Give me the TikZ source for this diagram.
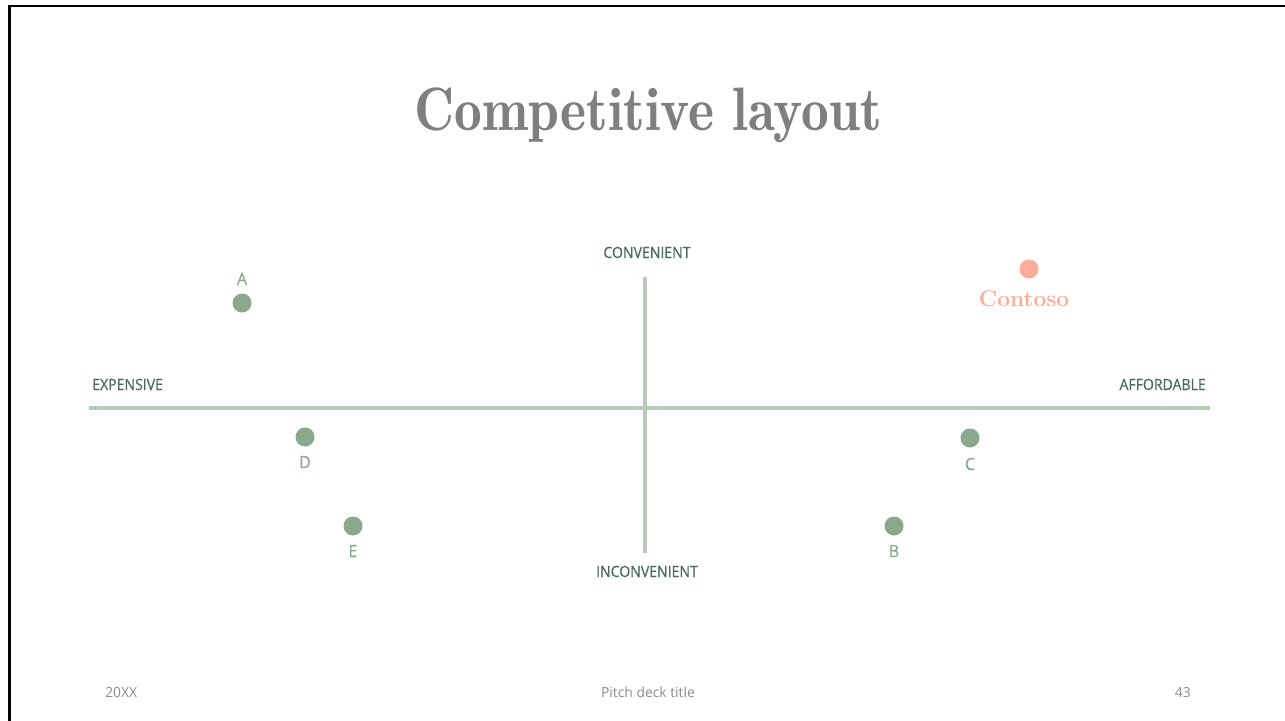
\documentclass[tikz,border=0pt]{standalone}
\usepackage{fontspec}
\setsansfont{Open Sans}
\newfontfamily\titlefont[FakeStretch=0.905]{lmromandemi10-regular.otf}
\newfontfamily\axisfont[FakeStretch=0.91,FakeBold=0.6]{Open Sans}
\newfontfamily\letterfont[FakeStretch=0.95,FakeBold=0.3]{Open Sans}
\definecolor{titlegray}{HTML}{7F7F7F}
\definecolor{axisgreen}{HTML}{B6CBB8}
\definecolor{dotgreen}{HTML}{8AA88C}
\definecolor{labelgreen}{HTML}{4B6B5E}
\definecolor{salmon}{HTML}{FFAC96}
\definecolor{footgray}{HTML}{8C8C8C}
\begin{document}
\begin{tikzpicture}[x=0.75pt,y=-0.75pt,
  axis/.style={draw=axisgreen,line width=3pt},
  dot/.style={circle,fill=dotgreen,minimum size=14.25pt,inner sep=0pt},
  hotdot/.style={circle,fill=salmon,minimum size=14.25pt,inner sep=0pt},
  axislabel/.style={text=labelgreen,font=\axisfont\fontsize{11.6}{13}\selectfont,inner sep=0pt,anchor=base},
  letter/.style={text=dotgreen,font=\letterfont\fontsize{12.6}{14}\selectfont,inner sep=0pt,anchor=base},
  foot/.style={text=footgray,font=\sffamily\fontsize{10.4}{12}\selectfont,inner sep=0pt,anchor=base}]
\useasboundingbox[fill=white] (0,0) rectangle (1285,721);
% slide frame
\draw[line width=1.9pt] (9.3,730) -- (9.3,5.8) -- (1290,5.8);
% title
\node[text=titlegray,font=\titlefont\fontsize{46}{50}\selectfont,inner sep=0pt,anchor=base] (title) at (648,130) {Competitive layout};
% axes
\coordinate (xl) at (89,407.5);
\coordinate (xr) at (1210,407.5);
\coordinate (yt) at (645,277);
\coordinate (yb) at (645,553);
\draw[axis] (xl) -- (xr);
\draw[axis] (yt) -- (yb);
% axis labels
\node[axislabel] (conv) at (647,258) {CONVENIENT};
\node[axislabel] (inconv) at (647,577) {INCONVENIENT};
\node[axislabel,anchor=base west] (exp) at (92,390) {EXPENSIVE};
\node[axislabel,anchor=base east] (aff) at (1206,390) {AFFORDABLE};
% competitors
\node[dot] (a) at (242,303) {};
\node[letter] (la) at (242,285) {A};
\node[dot] (d) at (305,437) {};
\node[letter] (ld) at (305,468) {D};
\node[dot] (e) at (353,526) {};
\node[letter] (le) at (353,557) {E};
\node[dot] (c) at (970,438) {};
\node[letter] (lc) at (970,470) {C};
\node[dot] (b) at (894,526) {};
\node[letter] (lb) at (894,557) {B};
% our company
\node[hotdot] (k) at (1029,269) {};
\node[text=salmon,font=\bfseries\fontsize{17}{20}\selectfont,inner sep=0pt,anchor=base] (lk) at (1024,306) {Contoso};
% footer
\node[foot,anchor=base west] (year) at (105,697) {20XX};
\node[foot] (deck) at (648,697) {Pitch deck title};
\node[foot,anchor=base east] (page) at (1191,697) {43};
\end{tikzpicture}
\end{document}
